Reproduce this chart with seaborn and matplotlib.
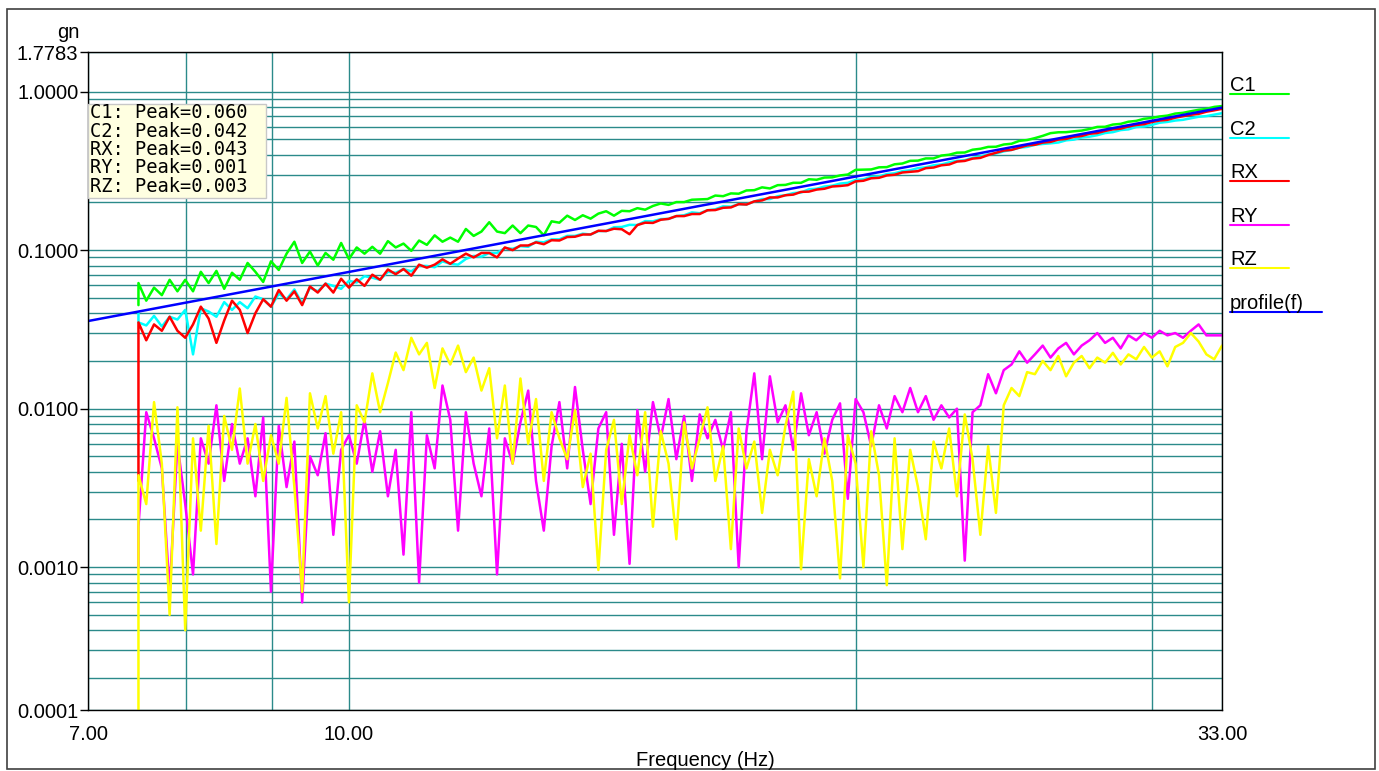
import numpy as np
import pandas as pd
import matplotlib
matplotlib.use("Agg")
import matplotlib.pyplot as plt
import seaborn as sns
from matplotlib.lines import Line2D
from matplotlib.patches import Rectangle
from matplotlib.ticker import FixedLocator, LogLocator, NullFormatter

sns.set_style("white")
plt.rcParams["font.family"] = ["Liberation Sans", "DejaVu Sans"]
plt.rcParams["text.color"] = "black"

# ---- data ---------------------------------------------------------------
# sampling grid (Hz): first point repeated so each trace starts with a vertical jump
freq = np.concatenate([[7.5], np.geomspace(7.5, 33.0, 140)])

c1_start = 0.045
c1 = [0.062, 0.048, 0.058, 0.052, 0.065, 0.055, 0.065, 0.055, 0.073, 0.062,
      0.074, 0.057, 0.072, 0.065, 0.083, 0.073, 0.063, 0.085, 0.075, 0.095,
      0.113, 0.083, 0.098, 0.080, 0.096, 0.087, 0.111, 0.088, 0.104, 0.095,
      0.105, 0.095, 0.114, 0.104, 0.110, 0.099, 0.115, 0.108, 0.124, 0.113,
      0.120, 0.113, 0.136, 0.123, 0.131, 0.150, 0.131, 0.128, 0.143, 0.128,
      0.143, 0.140, 0.124, 0.152, 0.149, 0.165, 0.155, 0.166, 0.158, 0.170,
      0.176, 0.165, 0.177, 0.176, 0.184, 0.180, 0.190, 0.197, 0.193, 0.201,
      0.201, 0.208, 0.209, 0.210, 0.221, 0.219, 0.228, 0.227, 0.238, 0.239,
      0.249, 0.245, 0.257, 0.258, 0.266, 0.266, 0.280, 0.278, 0.287, 0.288,
      0.296, 0.300, 0.321, 0.322, 0.323, 0.333, 0.334, 0.348, 0.352, 0.366,
      0.367, 0.379, 0.379, 0.395, 0.400, 0.412, 0.413, 0.430, 0.436, 0.448,
      0.449, 0.464, 0.469, 0.489, 0.495, 0.509, 0.526, 0.547, 0.554, 0.555,
      0.562, 0.568, 0.581, 0.599, 0.600, 0.620, 0.626, 0.646, 0.654, 0.674,
      0.682, 0.697, 0.706, 0.727, 0.735, 0.752, 0.768, 0.777, 0.801, 0.811]

c2_start = 0.040
c2 = [0.035, 0.0335, 0.0385, 0.033, 0.038, 0.0365, 0.042, 0.022, 0.043, 0.041,
      0.038, 0.047, 0.042, 0.047, 0.043, 0.051, 0.049, 0.044, 0.053, 0.049,
      0.0565, 0.046, 0.058, 0.055, 0.0615, 0.0595, 0.057, 0.064, 0.0625, 0.0685,
      0.067, 0.065, 0.073, 0.072, 0.076, 0.0735, 0.0795, 0.0795, 0.078, 0.085,
      0.082, 0.081, 0.088, 0.092, 0.091, 0.096, 0.096, 0.103, 0.102, 0.106,
      0.105, 0.113, 0.112, 0.117, 0.117, 0.123, 0.123, 0.127, 0.1255, 0.132,
      0.132, 0.1395, 0.140, 0.1445, 0.144, 0.1525, 0.152, 0.157, 0.1575, 0.164,
      0.166, 0.173, 0.171, 0.1785, 0.181, 0.189, 0.188, 0.195, 0.194, 0.203,
      0.210, 0.210, 0.219, 0.222, 0.229, 0.231, 0.242, 0.244, 0.252, 0.255,
      0.263, 0.266, 0.277, 0.280, 0.290, 0.292, 0.302, 0.3055, 0.315, 0.319,
      0.329, 0.333, 0.343, 0.347, 0.358, 0.366, 0.369, 0.382, 0.390, 0.402,
      0.407, 0.420, 0.429, 0.443, 0.448, 0.462, 0.4675, 0.472, 0.4775, 0.493,
      0.498, 0.514, 0.520, 0.531, 0.548, 0.555, 0.572, 0.578, 0.598, 0.603,
      0.617, 0.6365, 0.644, 0.657, 0.664, 0.679, 0.694, 0.701, 0.716, 0.731]

rx_start = 0.0035
rx = [0.035, 0.027, 0.034, 0.031, 0.038, 0.031, 0.028, 0.034, 0.044, 0.037,
      0.026, 0.036, 0.048, 0.042, 0.030, 0.040, 0.049, 0.044, 0.056, 0.048,
      0.055, 0.045, 0.059, 0.054, 0.0615, 0.054, 0.066, 0.058, 0.0655, 0.0595,
      0.070, 0.065, 0.0755, 0.0705, 0.076, 0.069, 0.081, 0.0775, 0.081, 0.0875,
      0.082, 0.0885, 0.095, 0.090, 0.096, 0.096, 0.090, 0.104, 0.100, 0.107,
      0.107, 0.112, 0.109, 0.1155, 0.115, 0.121, 0.1215, 0.1255, 0.1255, 0.1325,
      0.132, 0.1365, 0.1355, 0.126, 0.144, 0.149, 0.1485, 0.1555, 0.1575, 0.164,
      0.164, 0.169, 0.169, 0.1785, 0.179, 0.185, 0.186, 0.195, 0.194, 0.203,
      0.206, 0.215, 0.215, 0.222, 0.224, 0.233, 0.234, 0.241, 0.244, 0.252,
      0.254, 0.257, 0.2715, 0.274, 0.284, 0.286, 0.296, 0.299, 0.309, 0.312,
      0.315, 0.329, 0.332, 0.343, 0.347, 0.362, 0.3655, 0.378, 0.382, 0.398,
      0.411, 0.425, 0.429, 0.443, 0.458, 0.462, 0.477, 0.482, 0.498, 0.503,
      0.519, 0.525, 0.542, 0.548, 0.565, 0.578, 0.584, 0.603, 0.616, 0.623,
      0.643, 0.657, 0.664, 0.685, 0.700, 0.715, 0.724, 0.747, 0.762, 0.779]

ry_start = 0.001
ry = [0.0018, 0.0095, 0.0065, 0.0042, 0.0007, 0.006, 0.0025, 0.0009, 0.0065, 0.0045,
      0.0105, 0.0035, 0.008, 0.0045, 0.0065, 0.0028, 0.0088, 0.0007, 0.0078, 0.0032,
      0.0062, 0.0006, 0.005, 0.0038, 0.007, 0.0016, 0.0055, 0.0068, 0.0045, 0.0085,
      0.004, 0.0072, 0.0028, 0.0055, 0.0012, 0.0095, 0.0008, 0.0068, 0.0042, 0.014,
      0.0085, 0.0017, 0.0095, 0.0045, 0.0028, 0.0075, 0.0009, 0.0065, 0.0045, 0.0082,
      0.013, 0.0035, 0.0017, 0.0058, 0.011, 0.0042, 0.0137, 0.0055, 0.0025, 0.0075,
      0.0095, 0.0016, 0.006, 0.00105, 0.0098, 0.004, 0.011, 0.0065, 0.0115, 0.0048,
      0.009, 0.0035, 0.0092, 0.0065, 0.0085, 0.0055, 0.0095, 0.001, 0.0072, 0.0167,
      0.0048, 0.016, 0.0082, 0.0105, 0.0055, 0.0125, 0.0068, 0.0095, 0.0052, 0.0085,
      0.0108, 0.0027, 0.0115, 0.0095, 0.0058, 0.0105, 0.0075, 0.012, 0.0095, 0.0135,
      0.0095, 0.012, 0.0085, 0.0105, 0.0088, 0.010, 0.0011, 0.0095, 0.0105, 0.0165,
      0.0125, 0.0175, 0.019, 0.023, 0.0195, 0.022, 0.025, 0.021, 0.024, 0.026,
      0.022, 0.025, 0.027, 0.030, 0.026, 0.028, 0.024, 0.029, 0.027, 0.030,
      0.028, 0.031, 0.029, 0.030, 0.028, 0.031, 0.034, 0.029, 0.029, 0.029]

rz_start = 0.0001
rz = [0.0038, 0.0025, 0.011, 0.0045, 0.0005, 0.0102, 0.0004, 0.0065, 0.0017, 0.0078,
      0.0014, 0.009, 0.0055, 0.0134, 0.0045, 0.008, 0.0035, 0.0068, 0.0045, 0.0117,
      0.0032, 0.0007, 0.0125, 0.0075, 0.012, 0.0052, 0.0095, 0.0006, 0.0105, 0.0082,
      0.0167, 0.0095, 0.0145, 0.0226, 0.0175, 0.028, 0.022, 0.026, 0.0135, 0.024,
      0.019, 0.025, 0.017, 0.021, 0.013, 0.018, 0.0065, 0.014, 0.0045, 0.0155,
      0.006, 0.0115, 0.0035, 0.0095, 0.0065, 0.0048, 0.0098, 0.0032, 0.0052, 0.00096,
      0.0055, 0.0085, 0.0025, 0.0068, 0.0038, 0.0095, 0.0018, 0.0072, 0.0045, 0.0015,
      0.0082, 0.0042, 0.0065, 0.0102, 0.0035, 0.0058, 0.0013, 0.0075, 0.0042, 0.0062,
      0.0022, 0.0055, 0.0038, 0.0078, 0.0128, 0.00097, 0.0048, 0.0028, 0.0065, 0.0035,
      0.00085, 0.0068, 0.0045, 0.001, 0.0072, 0.0038, 0.00077, 0.0065, 0.0013, 0.0055,
      0.0032, 0.0015, 0.0062, 0.0042, 0.0075, 0.0028, 0.0092, 0.0048, 0.0016, 0.0058,
      0.0022, 0.0105, 0.0135, 0.012, 0.017, 0.0165, 0.020, 0.0175, 0.0215, 0.016,
      0.0195, 0.0215, 0.018, 0.021, 0.0195, 0.0225, 0.019, 0.022, 0.0205, 0.0245,
      0.021, 0.023, 0.0185, 0.0245, 0.026, 0.030, 0.0265, 0.022, 0.0205, 0.025]

# reference profile: straight line on log-log axes
profile_f = [7.0, 33.0]
profile_g = [0.0357, 0.793]

channels = ["C1", "C2", "RX", "RY", "RZ"]
peaks = [0.060, 0.042, 0.043, 0.001, 0.003]

x_ticks = [7.0, 10.0, 33.0]
x_tick_labels = ["7.00", "10.00", "33.00"]
x_grid_minor = [8, 9, 20, 30]
y_bottom = 1.256e-4
y_ticks = [y_bottom, 0.001, 0.01, 0.1, 1.0, 1.7783]
y_tick_labels = ["0.0001", "0.0010", "0.0100", "0.1000", "1.0000", "1.7783"]

colors = {"C1": "#00ff00", "C2": "#00ffff", "RX": "#ff0000",
          "RY": "#ff00ff", "RZ": "#ffff00", "profile(f)": "#0000ff"}
GRID = "#2b8a8a"

# ---- build long-form table ---------------------------------------------
traces = {"C1": [c1_start] + c1, "C2": [c2_start] + c2, "RX": [rx_start] + rx,
          "RY": [ry_start] + ry, "RZ": [rz_start] + rz}
frames = [pd.DataFrame({"freq": freq, "gn": vals, "channel": name})
          for name, vals in traces.items()]
frames.append(pd.DataFrame({"freq": profile_f, "gn": profile_g, "channel": "profile(f)"}))
df = pd.concat(frames, ignore_index=True)

# ---- figure --------------------------------------------------------------
W, H = 1379, 771


def fx(px):
    return px / W


def fy(py):
    return 1 - py / H


fig = plt.figure(figsize=(W / 100, H / 100), dpi=100)
ax = fig.add_axes([fx(88), fy(710), fx(1222) - fx(88), fy(52) - fy(710)])
ax.set_xscale("log")
ax.set_yscale("log")

sns.lineplot(data=df, x="freq", y="gn", hue="channel",
             hue_order=channels + ["profile(f)"], palette=colors,
             estimator=None, sort=False, lw=1.8, legend=False, ax=ax)

ax.set_xlim(7, 33)
ax.set_ylim(y_bottom, 1.7783)
ax.set_xlabel("")
ax.set_ylabel("")

ax.xaxis.set_major_locator(FixedLocator(x_ticks))
ax.set_xticklabels(x_tick_labels)
ax.xaxis.set_minor_locator(FixedLocator(x_grid_minor))
ax.xaxis.set_minor_formatter(NullFormatter())
ax.yaxis.set_major_locator(FixedLocator(y_ticks))
ax.set_yticklabels(y_tick_labels)
ax.yaxis.set_minor_locator(LogLocator(base=10, subs=np.arange(2, 10)))
ax.yaxis.set_minor_formatter(NullFormatter())

ax.grid(True, which="both", color=GRID, lw=1.0)
ax.set_axisbelow(True)
ax.tick_params(axis="x", which="both", length=0, pad=11, labelsize=14.5, colors="black")
ax.tick_params(axis="y", which="major", left=True, length=6, width=1, pad=1,
               labelsize=14.5, direction="out", colors="black")
ax.tick_params(axis="y", which="minor", length=0)
for sp in ax.spines.values():
    sp.set_color("black")
    sp.set_linewidth(1.0)

# axis titles
fig.text(fx(68), fy(32), "gn", fontsize=14.5, ha="center", va="center")
fig.text(fx(705), fy(760), "Frequency (Hz)", fontsize=14.5, ha="center", va="center")

# peak readout box
fig.add_artist(Rectangle((fx(88), fy(198)), fx(266) - fx(88), fy(104) - fy(198),
                         transform=fig.transFigure, fc="#ffffe1", ec="#c8c8c8", lw=1))
for k, (name, pk) in enumerate(zip(channels, peaks)):
    fig.text(fx(90), fy(113 + 18.3 * k), f"{name}: Peak={pk:.3f}",
             family="DejaVu Sans Mono", fontsize=13.5, va="center")

# legend on the right: label with coloured underline
for k, name in enumerate(channels + ["profile(f)"]):
    y_line = 94 + 43.6 * k
    x_end = 1322 if name == "profile(f)" else 1289
    fig.text(fx(1230), fy(y_line - 3), name, fontsize=14.5, va="baseline")
    fig.add_artist(Line2D([fx(1230), fx(x_end)], [fy(y_line), fy(y_line)],
                          transform=fig.transFigure, color=colors[name], lw=1.5))

# outer frame
fig.add_artist(Rectangle((fx(7), fy(769)), fx(1375) - fx(7), fy(9) - fy(769),
                         transform=fig.transFigure, fill=False, ec="#404040", lw=1.2))

fig.savefig("out.png", dpi=100)
